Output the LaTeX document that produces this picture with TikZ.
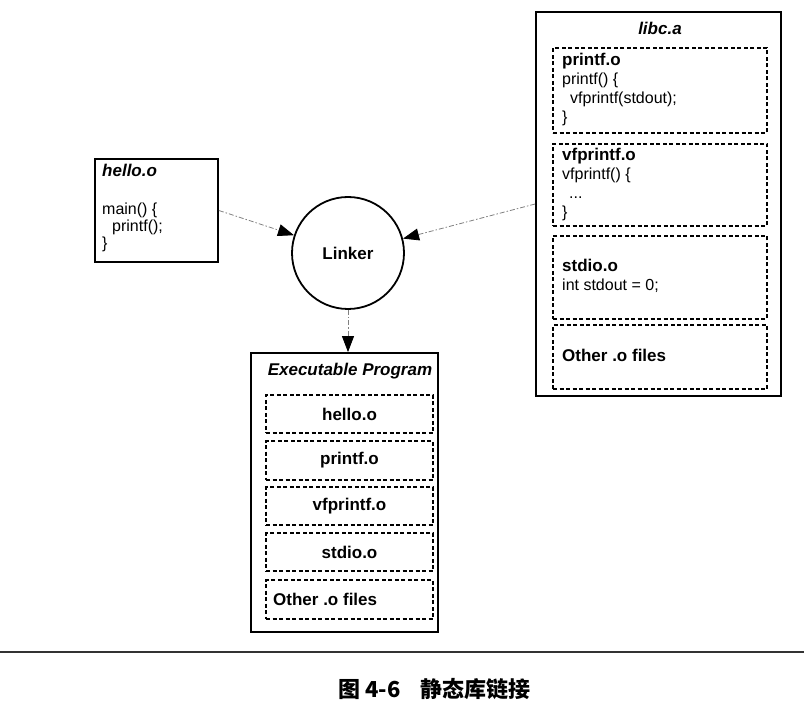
\documentclass[tikz,border=0pt]{standalone}
\usepackage{fontspec}
\setmainfont{Liberation Sans}
\newfontfamily\cjk{Noto Sans CJK SC}
\usetikzlibrary{arrows.meta}
\begin{document}
\begin{tikzpicture}[x=1pt,y=-1pt,
  outerbox/.style={draw=black, line width=1.8pt, inner sep=0pt},
  objbox/.style={draw=black, line width=1.4pt, dash pattern=on 4pt off 2.5pt, inner sep=0pt},
  code/.style={anchor=base west, inner sep=0pt, font=\fontsize{16}{19}\selectfont},
  codeb/.style={anchor=base west, inner sep=0pt, font=\bfseries\fontsize{17}{19}\selectfont},
  titlebi/.style={anchor=base, inner sep=0pt, font=\bfseries\itshape\fontsize{17}{19}\selectfont},
  exlabel/.style={font=\bfseries\fontsize{17}{19}\selectfont},
  conn/.style={draw=gray, line width=0.8pt, dash pattern=on 5pt off 2pt on 1.5pt off 2pt,
    -{Triangle[length=16pt,width=12pt,color=black]}}
]
\useasboundingbox (0,0) rectangle (804,714);

% hello.o
\node[outerbox, minimum width=123pt, minimum height=103pt] (hello) at (156.5,210.5) {};
\node[titlebi, anchor=base west] (helloT) at (102,177) {hello.o};
\node[code] (h1) at (102,215) {main() \{};
\node[code] (h2) at (112,232) {printf();};
\node[code] (h3) at (102,249) {\}};

% Linker
\node[circle, draw=black, line width=1.8pt, minimum size=112pt, inner sep=0pt,
  font=\bfseries\fontsize{17}{20}\selectfont] (linker) at (348,253) {Linker};

% libc.a
\node[outerbox, minimum width=245pt, minimum height=384pt] (libc) at (658.5,204) {};
\node[titlebi] (libcT) at (660,35) {libc.a};

\node[objbox, minimum width=214pt, minimum height=85pt] (lp) at (660,90.5) {};
\node[codeb] (lp0) at (562,66) {printf.o};
\node[code] (lp1) at (562,85) {printf() \{};
\node[code] (lp2) at (570,104) {vfprintf(stdout);};
\node[code] (lp3) at (562,123) {\}};

\node[objbox, minimum width=214pt, minimum height=82pt] (lv) at (660,185) {};
\node[codeb] (lv0) at (562,161) {vfprintf.o};
\node[code] (lv1) at (562,180) {vfprintf() \{};
\node[code] (lv2) at (569,199) {...};
\node[code] (lv3) at (562,218) {\}};

\node[objbox, minimum width=214pt, minimum height=83pt] (ls) at (660,277.5) {};
\node[codeb] (ls0) at (562,272) {stdio.o};
\node[code] (ls1) at (562,291) {int stdout = 0;};

\node[objbox, minimum width=214pt, minimum height=64pt] (lo) at (660,357) {};
\node[codeb] (lo0) at (562,362) {Other .o files};

% Executable Program
\node[outerbox, minimum width=187pt, minimum height=279pt] (exec) at (344.5,492.5) {};
\node[titlebi] (execT) at (350,376) {Executable Program};
\node[objbox, exlabel, minimum width=167pt, minimum height=38pt] (e1) at (349.5,414) {hello.o};
\node[objbox, exlabel, minimum width=167pt, minimum height=39pt] (e2) at (349.5,460.5) {printf.o};
\node[objbox, exlabel, minimum width=167pt, minimum height=38pt] (e3) at (349.5,506) {vfprintf.o};
\node[objbox, exlabel, minimum width=167pt, minimum height=38pt] (e4) at (349.5,552) {stdio.o};
\node[objbox, minimum width=167pt, minimum height=39pt] (e5) at (349.5,599.5) {};
\node[codeb] (e5t) at (273,605) {Other .o files};

% connectors
\draw[conn] (hello.east) -- (linker);
\draw[conn] (libc.west) -- (linker);
\draw[conn] (linker) -- (linker |- exec.north);

% rule and caption
\draw[line width=1.5pt, black!80] (0,652) -- (804,652);
\node[font=\cjk\bfseries\fontsize{22}{25}\selectfont] (cap) at (434.5,689) {图 4-6\hspace{20pt}静态库链接};
\end{tikzpicture}
\end{document}
